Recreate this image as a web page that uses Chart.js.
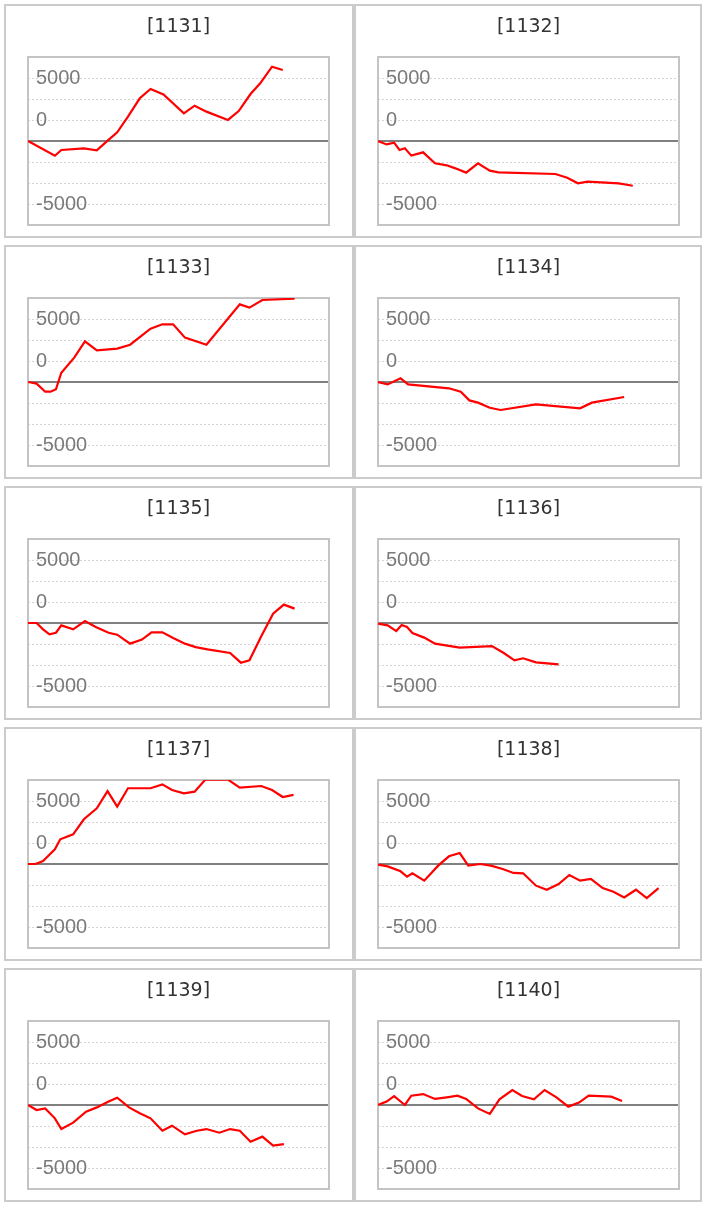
<!DOCTYPE html>
<html>
<head>
<meta charset="utf-8">
<script src="https://cdn.jsdelivr.net/npm/chart.js@4.4.1/dist/chart.umd.min.js"></script>
<style>
body { margin: 0; background: #fff; }
.panel { position: absolute; box-sizing: border-box; border: 2px solid #cbcbcb; height: 234px; background: #fff; }
.panel canvas { position: absolute; left: 0; top: 0; }
</style>
</head>
<body>
<div id="wrap"></div>
<script>
// codes, in page order (left, right per row)
var codes = ['1131','1132','1133','1134','1135','1136','1137','1138','1139','1140'];

// y axis: gridline values and the labels printed on them (bottom to top)
var yMin = -20000/3;
var yMax = 20000/3;
var yTickValues = [-20000/3, -5000, -10000/3, -5000/3, 0, 5000/3, 10000/3, 5000, 20000/3];
var yTickText = [null, '-5000', '', '', '', '0', '', '5000', null];
var xMax = 28;

// series: trading day index and value
var days1131 = [0, 2.5, 3.1, 5.2, 6.4, 7.3, 8.3, 9.3, 10.4, 11.4, 12.6, 14.5, 15.5, 16.6, 18.6, 19.6, 20.7, 21.6, 22.7, 23.7];
var vals1131 = [0, -1170, -710, -580, -740, -50, 690, 1930, 3390, 4130, 3700, 2200, 2800, 2330, 1670, 2380, 3730, 4580, 5900, 5640];

var days1132 = [0, 0.8, 1.5, 2.0, 2.5, 3.1, 4.2, 5.3, 6.4, 7.2, 8.2, 9.3, 10.4, 11.2, 16.5, 17.6, 18.6, 19.5, 22.4, 23.7];
var vals1132 = [0, -270, -130, -710, -580, -1160, -900, -1770, -1930, -2170, -2510, -1770, -2350, -2490, -2620, -2910, -3360, -3230, -3360, -3550];

var days1133 = [0, 0.8, 1.6, 2.1, 2.6, 3.1, 4.3, 5.3, 6.4, 8.3, 9.5, 11.4, 12.5, 13.5, 14.6, 16.6, 19.7, 20.6, 21.8, 24.8];
var vals1133 = [0, -130, -770, -770, -580, 740, 1930, 3230, 2510, 2650, 2960, 4230, 4580, 4580, 3520, 2960, 6160, 5900, 6510, 6610];

var days1134 = [0, 0.9, 2.1, 2.8, 6.6, 7.7, 8.5, 9.3, 10.4, 11.4, 14.7, 18.8, 19.9, 22.9];
var vals1134 = [0, -190, 290, -190, -500, -770, -1460, -1640, -2040, -2220, -1770, -2090, -1640, -1190];

var days1135 = [0, 0.8, 1.4, 2.0, 2.6, 3.1, 4.2, 5.3, 6.3, 7.5, 8.3, 9.5, 10.6, 11.5, 12.5, 13.5, 14.6, 15.6, 16.7, 18.8, 19.8, 20.6, 21.7, 22.8, 23.8, 24.8];
var vals1135 = [0, 0, -500, -900, -770, -190, -500, 160, -320, -770, -930, -1640, -1320, -740, -740, -1190, -1640, -1910, -2090, -2380, -3150, -2960, -1060, 740, 1460, 1140];

var days1136 = [0, 0.9, 1.7, 2.2, 2.7, 3.2, 4.3, 5.3, 7.6, 10.6, 11.7, 12.7, 13.5, 14.7, 16.8];
var vals1136 = [-50, -190, -640, -160, -320, -790, -1160, -1640, -1960, -1830, -2380, -2960, -2800, -3120, -3280];

var days1137 = [0, 0.7, 1.4, 2.5, 3.0, 4.2, 5.2, 6.4, 7.4, 8.3, 9.3, 11.4, 12.5, 13.4, 14.5, 15.5, 16.5, 18.6, 19.7, 21.7, 22.7, 23.7, 24.7];
var vals1137 = [0, 0, 240, 1160, 1960, 2350, 3550, 4420, 5790, 4550, 6010, 6010, 6320, 5870, 5610, 5740, 6700, 6700, 6060, 6190, 5870, 5320, 5480];

var days1138 = [0, 0.9, 2.1, 2.7, 3.2, 4.3, 5.6, 6.6, 7.6, 8.4, 9.5, 10.5, 11.6, 12.6, 13.5, 14.7, 15.7, 16.8, 17.8, 18.8, 19.8, 20.9, 21.9, 22.9, 24.0, 25.0, 26.1];
var vals1138 = [-50, -190, -580, -1010, -740, -1320, -130, 610, 870, -130, 0, -130, -400, -710, -740, -1720, -2040, -1590, -870, -1320, -1190, -1910, -2200, -2650, -2040, -2700, -1910];

var days1139 = [0, 0.8, 1.6, 2.5, 3.1, 4.2, 5.4, 6.4, 7.5, 8.3, 9.4, 10.4, 11.4, 12.5, 13.4, 14.6, 15.7, 16.6, 17.8, 18.8, 19.7, 20.7, 21.8, 22.8, 23.8];
var vals1139 = [0, -400, -270, -1060, -1910, -1400, -530, -190, 270, 580, -190, -660, -1060, -2040, -1640, -2330, -2040, -1910, -2200, -1910, -2040, -2910, -2510, -3230, -3100];

var days1140 = [0, 0.8, 1.5, 2.5, 3.1, 4.2, 5.3, 6.4, 7.4, 8.2, 9.3, 10.4, 11.3, 12.5, 13.4, 14.5, 15.5, 16.6, 17.7, 18.7, 19.6, 21.7, 22.7];
var vals1140 = [0, 270, 710, 0, 740, 870, 480, 610, 740, 480, -270, -710, 450, 1190, 710, 450, 1190, 610, -130, 190, 740, 660, 320];

var seriesDays = [days1131, days1132, days1133, days1134, days1135, days1136, days1137, days1138, days1139, days1140];
var seriesVals = [vals1131, vals1132, vals1133, vals1134, vals1135, vals1136, vals1137, vals1138, vals1139, vals1140];

// plot frame, drawn under the line
var framePlugin = {
	id: 'frame',
	beforeDatasetsDraw: function(chart) {
		var a = chart.chartArea;
		var ctx = chart.ctx;
		ctx.save();
		ctx.strokeStyle = '#c4c4c4';
		ctx.lineWidth = 2;
		ctx.strokeRect(a.left, a.top, a.right - a.left, a.bottom - a.top);
		ctx.restore();
	}
};

function isZero(c) {
	return c.tick && c.tick.value === 0;
}

function createPanel(i) {
	var col = i % 2;
	var row = Math.floor(i / 2);
	var w = col == 0 ? 350 : 348;
	var div = document.createElement('div');
	div.className = 'panel';
	div.style.left = (col == 0 ? 4 : 354) + 'px';
	div.style.top = (4 + row * 241) + 'px';
	div.style.width = w + 'px';
	var cvs = document.createElement('canvas');
	cvs.width = w - 4;
	cvs.height = 230;
	cvs.style.width = (w - 4) + 'px';
	cvs.style.height = '230px';
	div.appendChild(cvs);
	document.getElementById('wrap').appendChild(div);

	var pts = [];
	for (var k = 0; k < seriesDays[i].length; k++) {
		pts.push({x: seriesDays[i][k], y: seriesVals[i][k]});
	}

	new Chart(cvs.getContext('2d'), {
		type: 'line',
		data: {
			datasets: [{
				data: pts,
				borderColor: '#ff0000',
				borderWidth: 2.2,
				pointRadius: 0,
				tension: 0,
				fill: false
			}]
		},
		options: {
			responsive: false,
			animation: false,
			layout: { padding: { left: 22, right: w - 4 - 323, top: 0, bottom: 11 } },
			plugins: {
				legend: { display: false },
				tooltip: { enabled: false },
				title: {
					display: true,
					text: '[' + codes[i] + ']',
					color: '#333333',
					font: { family: 'DejaVu Sans', size: 19, weight: 'normal' },
					padding: { top: 9.6, bottom: 18.6 }
				}
			},
			scales: {
				x: { type: 'linear', min: 0, max: xMax, display: false },
				y: {
					min: yMin,
					max: yMax,
					afterBuildTicks: function(scale) {
						scale.ticks = yTickValues.map(function(v) { return {value: v}; });
					},
					afterFit: function(scale) {
						// labels sit inside the plot, so the axis takes no room
						scale.width = 0;
						scale.paddingTop = 0;
						scale.paddingBottom = 0;
					},
					border: {
						display: false,
						dash: function(c) { return isZero(c) ? [] : [2, 2]; }
					},
					grid: {
						drawTicks: false,
						color: function(c) { return isZero(c) ? '#808080' : '#d4d4d4'; },
						lineWidth: function(c) { return isZero(c) ? 2 : 1; }
					},
					ticks: {
						mirror: true,
						padding: 8,
						autoSkip: false,
						color: '#7a7a7a',
						font: { family: 'Liberation Sans', size: 20 },
						callback: function(value, index) { return yTickText[index]; }
					}
				}
			}
		},
		plugins: [framePlugin]
	});
}

for (var i = 0; i < codes.length; i++) {
	createPanel(i);
}
</script>
</body>
</html>
